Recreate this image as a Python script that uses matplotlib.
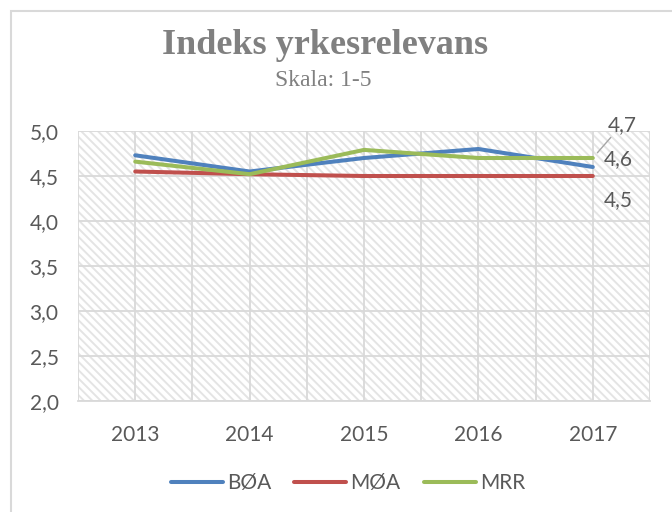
"""
Line chart: Indeks yrkesrelevans (Skala: 1-5).
"""

import matplotlib
matplotlib.use("Agg")
import matplotlib.pyplot as plt
from matplotlib.patches import Rectangle

# Chart data.
years = ["2013", "2014", "2015", "2016", "2017"]
boa = [4.73, 4.55, 4.70, 4.80, 4.60]
moa = [4.55, 4.52, 4.50, 4.50, 4.50]
mrr = [4.66, 4.52, 4.79, 4.70, 4.70]
y_ticks = [2.0, 2.5, 3.0, 3.5, 4.0, 4.5, 5.0]

series = [("BØA", boa, "#4F81BD"), ("MØA", moa, "#C0504D"), ("MRR", mrr, "#9BBB59")]

text_color = "#595959"
grid_color = "#d9d9d9"
sans = ["Lato", "DejaVu Sans"]

plt.rcParams["hatch.linewidth"] = 1.4

fig = plt.figure(figsize=(6.72, 5.12), dpi=100)

# Chart area border (runs off right and bottom edges).
fig.patches.append(Rectangle((11 / 672, -0.1), 1.2, 1 - 11 / 512 + 0.1,
                             transform=fig.transFigure, fill=False,
                             edgecolor=grid_color, linewidth=1.5))

ax = fig.add_axes([78 / 672, 111 / 512, 572 / 672, 270 / 512])

# Hatched plot area.
ax.patch.set_facecolor("white")
ax.patch.set_hatch("\\\\\\\\")
ax.patch.set_edgecolor("#e4e4e4")
ax.patch.set_linewidth(0)

x = list(range(len(years)))
for name, values, color in series:
    ax.plot(x, values, color=color, linewidth=2.9, label=name,
            solid_capstyle="round", zorder=5)

# Axis limits and grid.
ax.set_xlim(-0.5, len(years) - 0.5)
ax.set_ylim(2.0, 5.0)
ax.set_yticks(y_ticks)
ax.set_yticklabels([f"{v:.1f}".replace(".", ",") for v in y_ticks],
                   fontsize=15, color=text_color, family=sans)
ax.set_xticks(x)
ax.set_xticklabels(years, fontsize=15, color=text_color, family=sans)
ax.set_xticks([i - 0.5 for i in range(len(years) + 1)], minor=True)
ax.tick_params(axis="both", which="both", length=0)
ax.tick_params(axis="y", pad=14)
ax.tick_params(axis="x", pad=17)
ax.grid(axis="y", color=grid_color, linewidth=1.3)
ax.grid(axis="x", which="both", color=grid_color, linewidth=1.3)
for side in ["top", "right", "left"]:
    ax.spines[side].set_visible(False)
ax.spines["bottom"].set_color(grid_color)
ax.spines["bottom"].set_linewidth(1.3)
ax.set_axisbelow(True)

# Data labels for the last year.
last = len(years) - 1
ax.annotate(f"{mrr[-1]:.1f}".replace(".", ","), xy=(last, mrr[-1]),
            xytext=(21, 24), textcoords="offset points", fontsize=15,
            color=text_color, family=sans, ha="center", va="center",
            arrowprops=dict(arrowstyle="-", color="#a6a6a6", linewidth=1,
                            shrinkA=0, shrinkB=5))
ax.annotate(f"{boa[-1]:.1f}".replace(".", ","), xy=(last, boa[-1]),
            xytext=(18, 6), textcoords="offset points", fontsize=15,
            color=text_color, family=sans, ha="center", va="center")
ax.annotate(f"{moa[-1]:.1f}".replace(".", ","), xy=(last, moa[-1]),
            xytext=(18, -17), textcoords="offset points", fontsize=15,
            color=text_color, family=sans, ha="center", va="center")

# Titles.
fig.text(325 / 672, 1 - 45 / 512, "Indeks yrkesrelevans", ha="center", va="center",
         fontsize=26, fontweight="bold", color="#808080", family="Liberation Serif")
fig.text(323 / 672, 1 - 80 / 512, "Skala: 1-5", ha="center", va="center",
         fontsize=17, color="#808080", family="Liberation Serif")

# Legend.
leg = fig.legend(loc="center", bbox_to_anchor=(348 / 672, 1 - 483 / 512), ncol=3,
                 frameon=False, handlelength=2.5, columnspacing=1.1,
                 handletextpad=0.2, prop={"family": sans, "size": 15})
for text in leg.get_texts():
    text.set_color(text_color)

fig.savefig("out.png", dpi=100)
